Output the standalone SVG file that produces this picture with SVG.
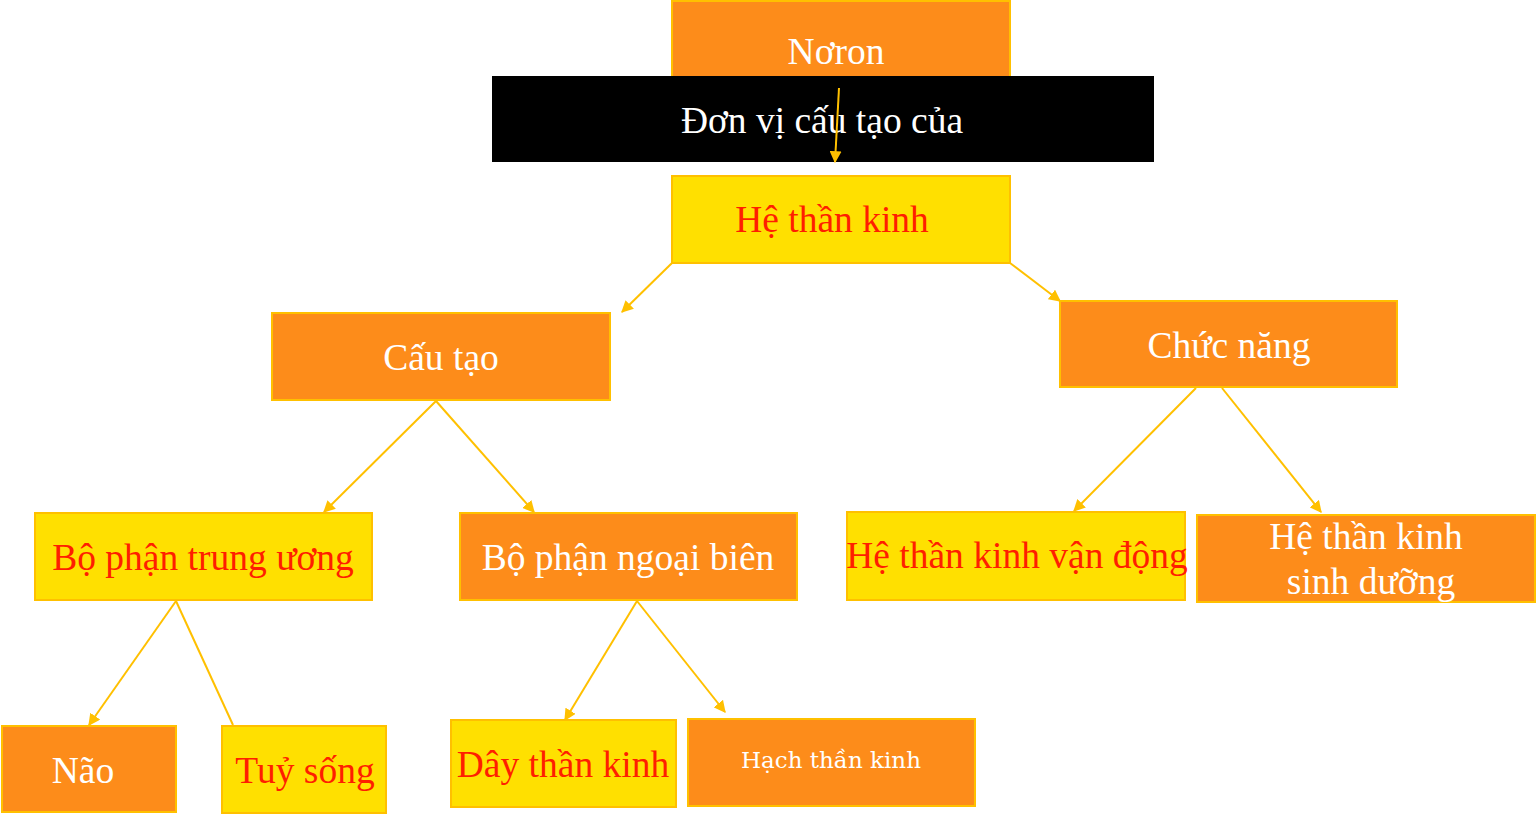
<svg xmlns="http://www.w3.org/2000/svg" width="1536" height="816" viewBox="0 0 1536 816">
<defs>
<style>
.o{fill:#FD8C1A;stroke:#FFC000;stroke-width:2}
.y{fill:#FFE000;stroke:#FFC000;stroke-width:2}
.t{font-family:"Liberation Serif","Times New Roman",serif;font-size:37.5px;text-anchor:middle}
.w{fill:#FFFFFF}
.r{fill:#FF1E00}
.c{stroke:#FFC000;stroke-width:2;fill:none}
</style>
<marker id="a" viewBox="0 0 10 10" refX="9" refY="5" markerWidth="6" markerHeight="6" orient="auto" markerUnits="strokeWidth"><path d="M0,0 L10,5 L0,10 z" fill="#FFC000"/></marker>
</defs>
<rect width="1536" height="816" fill="#FFFFFF"/>
<g id="noron"><rect class="o" x="672" y="1" width="338" height="86"/><text class="t w" x="836" y="64">Nơron</text></g>
<g id="donvi"><rect x="492" y="76" width="662" height="86" fill="#000000"/><text class="t w" x="822" y="133">Đơn vị cấu tạo của</text></g>
<g id="hethankinh"><rect class="y" x="672" y="176" width="338" height="87"/><text class="t r" x="832" y="232">Hệ thần kinh</text></g>
<g id="cautao"><rect class="o" x="272" y="313" width="338" height="87"/><text class="t w" x="441" y="370">Cấu tạo</text></g>
<g id="chucnang"><rect class="o" x="1060" y="301" width="337" height="86"/><text class="t w" x="1229" y="358">Chức năng</text></g>
<g id="trunguong"><rect class="y" x="35" y="513" width="337" height="87"/><text class="t r" x="203" y="570">Bộ phận trung ương</text></g>
<g id="ngoaibien"><rect class="o" x="460" y="513" width="337" height="87"/><text class="t w" x="628" y="570">Bộ phận ngoại biên</text></g>
<g id="vandong"><rect class="y" x="847" y="512" width="338" height="88"/><text class="t r" x="1017" y="568">Hệ thần kinh vận động</text></g>
<g id="sinhduong"><rect class="o" x="1197" y="515" width="338" height="87"/><text class="t w" x="1366" y="549">Hệ thần kinh</text><text class="t w" x="1371" y="594">sinh dưỡng</text></g>
<g id="nao"><rect class="o" x="2" y="726" width="174" height="86"/><text class="t w" x="83" y="783">Não</text></g>
<g id="tuysong"><rect class="y" x="222" y="726" width="164" height="87"/><text class="t r" x="305" y="783">Tuỷ sống</text></g>
<g id="daythankinh"><rect class="y" x="451" y="720" width="225" height="87"/><text class="t r" x="563" y="777">Dây thần kinh</text></g>
<g id="hachthankinh"><rect class="o" x="688" y="719" width="287" height="87"/><text class="w" x="831" y="768" font-family="'DejaVu Serif','Liberation Serif',serif" font-size="23" text-anchor="middle">Hạch thần kinh</text></g>
<g id="connectors">
<line class="c" x1="839" y1="88" x2="835" y2="162" marker-end="url(#a)"/>
<line class="c" x1="672" y1="263" x2="622" y2="312" marker-end="url(#a)"/>
<line class="c" x1="1010" y1="263" x2="1060" y2="301" marker-end="url(#a)"/>
<line class="c" x1="436" y1="401" x2="324" y2="512" marker-end="url(#a)"/>
<line class="c" x1="436" y1="401" x2="534" y2="512" marker-end="url(#a)"/>
<line class="c" x1="1196" y1="388" x2="1074" y2="511" marker-end="url(#a)"/>
<line class="c" x1="1222" y1="388" x2="1321" y2="512" marker-end="url(#a)"/>
<line class="c" x1="176" y1="601" x2="89" y2="725" marker-end="url(#a)"/>
<line class="c" x1="176" y1="601" x2="233" y2="725"/>
<line class="c" x1="637" y1="601" x2="565" y2="720" marker-end="url(#a)"/>
<line class="c" x1="637" y1="601" x2="725" y2="712" marker-end="url(#a)"/>
</g>
</svg>
